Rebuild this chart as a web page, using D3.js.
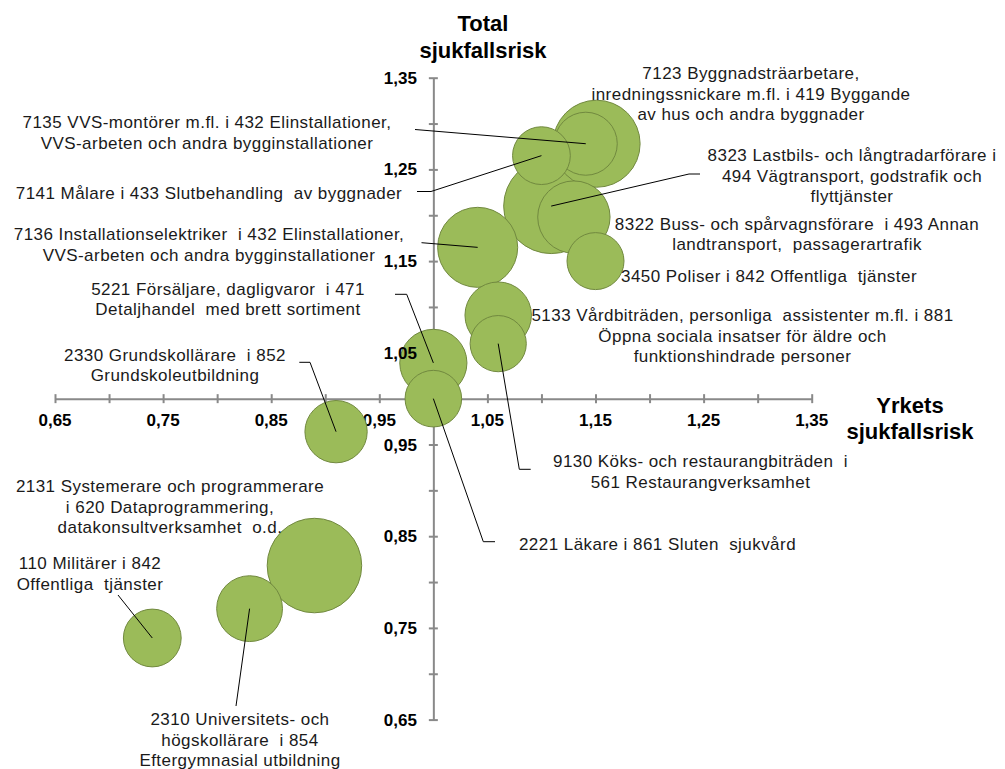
<!DOCTYPE html>
<html>
<head>
<meta charset="utf-8">
<script src="https://cdn.jsdelivr.net/npm/d3@7"></script>
<style>
html,body{margin:0;padding:0;background:#fff;}
svg{display:block;}
</style>
</head>
<body>
<svg id="chart" width="1005" height="769"></svg>
<script>
// ---- Data ----
const occupations = [
  "7123 Byggnadsträarbetare, inredningssnickare m.fl. i 419 Byggande av hus och andra byggnader",
  "7135 VVS-montörer m.fl. i 432 Elinstallationer, VVS-arbeten och andra bygginstallationer",
  "7141 Målare i 433 Slutbehandling av byggnader",
  "8323 Lastbils- och långtradarförare i 494 Vägtransport, godstrafik och flyttjänster",
  "8322 Buss- och spårvagnsförare i 493 Annan landtransport, passagerartrafik",
  "3450 Poliser i 842 Offentliga tjänster",
  "7136 Installationselektriker i 432 Elinstallationer, VVS-arbeten och andra bygginstallationer",
  "5133 Vårdbiträden, personliga assistenter m.fl. i 881 Öppna sociala insatser för äldre och funktionshindrade personer",
  "9130 Köks- och restaurangbiträden i 561 Restaurangverksamhet",
  "5221 Försäljare, dagligvaror i 471 Detaljhandel med brett sortiment",
  "2221 Läkare i 861 Sluten sjukvård",
  "2330 Grundskollärare i 852 Grundskoleutbildning",
  "2131 Systemerare och programmerare i 620 Dataprogrammering, datakonsultverksamhet o.d.",
  "2310 Universitets- och högskollärare i 854 Eftergymnasial utbildning",
  "110 Militärer i 842 Offentliga tjänster"
];
const yrketsRisk = [1.151, 1.141, 1.100, 1.109, 1.130, 1.150, 1.041, 1.060, 1.060, 1.000, 1.000, 0.910, 0.890, 0.830, 0.740];
const totalRisk  = [1.278, 1.278, 1.265, 1.210, 1.198, 1.150, 1.165, 1.091, 1.060, 1.039, 1.000, 0.964, 0.818, 0.771, 0.739];
const bubbleSize = [84, 44, 37, 100, 58, 36, 71, 49, 35, 50, 35.5, 43, 99, 48, 37];

const xTickValues = [0.65, 0.75, 0.85, 0.95, 1.05, 1.15, 1.25, 1.35];
const yTickValues = [0.65, 0.75, 0.85, 0.95, 1.05, 1.15, 1.25, 1.35];
const minorTickValues = [0.65,0.70,0.75,0.80,0.85,0.90,0.95,1.00,1.05,1.10,1.15,1.20,1.25,1.30,1.35];
const xTitle = ["Yrkets", "sjukfallsrisk"];
const yTitle = ["Total", "sjukfallsrisk"];

// ---- Label layout (annotation placement, pixels) ----
const labelLayout = [
  {lines:["7123 Byggnadsträarbetare,","inredningssnickare m.fl. i 419 Byggande","av hus och andra byggnader"], x:751, y:79, leader:null},
  {lines:["7135 VVS-montörer m.fl. i 432 Elinstallationer,","VVS-arbeten och andra bygginstallationer"], x:207, y:128, leader:[[415,129.5]]},
  {lines:["7141 Målare i 433 Slutbehandling  av byggnader"], x:209, y:199, leader:[[417,191.5],[431,191.5]]},
  {lines:["8323 Lastbils- och långtradarförare i","494 Vägtransport, godstrafik och","flyttjänster"], x:852, y:161, leader:[[700,174],[689,174]]},
  {lines:["8322 Buss- och spårvagnsförare  i 493 Annan","landtransport,  passagerartrafik"], x:797, y:229.5, leader:null},
  {lines:["3450 Poliser i 842 Offentliga  tjänster"], x:769, y:282, leader:null},
  {lines:["7136 Installationselektriker  i 432 Elinstallationer,","VVS-arbeten och andra bygginstallationer"], x:209, y:240, leader:[[421.5,242.7]]},
  {lines:["5133 Vårdbiträden, personliga  assistenter m.fl. i 881","Öppna sociala insatser för äldre och","funktionshindrade personer"], x:742.5, y:321, leader:null},
  {lines:["9130 Köks- och restaurangbiträden  i","561 Restaurangverksamhet"], x:700.5, y:467, leader:[[530.7,469.3],[519.3,469.3]]},
  {lines:["5221 Försäljare, dagligvaror  i 471","Detaljhandel  med brett sortiment"], x:228, y:294.5, leader:[[395,294.3],[406.7,294.3]]},
  {lines:["2221 Läkare i 861 Sluten  sjukvård"], x:657.5, y:549.5, leader:[[495,541.7],[483.3,541.7]]},
  {lines:["2330 Grundskollärare  i 852","Grundskoleutbildning"], x:175, y:360.5, leader:[[299.3,362.3],[310,362.3]]},
  {lines:["2131 Systemerare och programmerare","i 620 Dataprogrammering,","datakonsultverksamhet  o.d."], x:170, y:492, leader:null},
  {lines:["2310 Universitets- och","högskollärare  i 854","Eftergymnasial utbildning"], x:240, y:725, leader:[[236,706]]},
  {lines:["110 Militärer i 842","Offentliga  tjänster"], x:90, y:569, leader:[[118,595]]}
];

// ---- Scales ----
const svg = d3.select("#chart");
const x = d3.scaleLinear().domain([0.65, 1.35]).range([55, 811.7]);
const y = d3.scaleLinear().domain([0.65, 1.35]).range([719.6, 77.7]);
const r = d3.scaleSqrt().domain([0, d3.max(bubbleSize)]).range([0, 47.5]);

const axisColor = "#898989";
const fontFam = "'Liberation Sans', Arial, sans-serif";
const fmt = v => d3.format(".2f")(v).replace(".", ",");

// ---- Axes crossing at (1,1) ----
const xAxisG = svg.append("g").attr("transform", `translate(0,${y(1.0)})`);
xAxisG.call(d3.axisBottom(x).tickValues(minorTickValues).tickSize(0).tickFormat(""));
xAxisG.select(".domain").attr("stroke", axisColor).attr("stroke-width", 2);
xAxisG.selectAll(".tick").append("line").attr("y1", -4.5).attr("y2", 4.5)
  .attr("stroke", axisColor).attr("stroke-width", 2);

const yAxisG = svg.append("g").attr("transform", `translate(${x(1.0)},0)`);
yAxisG.call(d3.axisLeft(y).tickValues(minorTickValues).tickSize(0).tickFormat(""));
yAxisG.select(".domain").attr("stroke", axisColor).attr("stroke-width", 2);
yAxisG.selectAll(".tick").append("line").attr("x1", -4.5).attr("x2", 4.5)
  .attr("stroke", axisColor).attr("stroke-width", 2);

// x tick labels (beneath bubbles)
svg.append("g").selectAll("text").data(xTickValues).join("text")
  .attr("x", d => x(d)).attr("y", y(1.0) + 27.5)
  .attr("text-anchor", "middle")
  .attr("font-family", fontFam).attr("font-weight", "bold").attr("font-size", 17)
  .attr("fill", "#000").text(fmt);

// axis titles
svg.append("text").attr("font-family", fontFam).attr("font-weight", "bold").attr("font-size", 22)
  .attr("text-anchor", "middle").attr("fill", "#000")
  .selectAll("tspan").data(yTitle).join("tspan")
  .attr("x", 483).attr("y", (d, i) => 31 + i * 27).text(d => d);

svg.append("text").attr("font-family", fontFam).attr("font-weight", "bold").attr("font-size", 22)
  .attr("text-anchor", "middle").attr("fill", "#000")
  .selectAll("tspan").data(xTitle).join("tspan")
  .attr("x", 910).attr("y", (d, i) => 413 + i * 25.5).text(d => d);

// ---- Bubbles (largest first) ----
const points = occupations.map((name, i) => ({
  name, xv: yrketsRisk[i], yv: totalRisk[i], size: bubbleSize[i], layout: labelLayout[i]
}));
const order = points.slice().sort((a, b) => b.size - a.size);

svg.append("g").selectAll("circle").data(order).join("circle")
  .attr("cx", d => x(d.xv)).attr("cy", d => y(d.yv)).attr("r", d => r(d.size))
  .attr("fill", "#9bbb59").attr("stroke", "#71893f").attr("stroke-width", 1);

// y tick labels (drawn over bubbles)
svg.append("g").selectAll("text").data(yTickValues).join("text")
  .attr("x", x(1.0) - 16.5).attr("y", d => y(d) + 6)
  .attr("text-anchor", "end")
  .attr("font-family", fontFam).attr("font-weight", "bold").attr("font-size", 17)
  .attr("fill", "#000").text(fmt);

// ---- Leader lines ----
const line = d3.line();
svg.append("g").selectAll("path").data(points.filter(d => d.layout.leader)).join("path")
  .attr("d", d => line(d.layout.leader.concat([[x(d.xv), y(d.yv)]])))
  .attr("fill", "none").attr("stroke", "#000").attr("stroke-width", 1);

// ---- Labels ----
const lblG = svg.append("g");
points.forEach(d => {
  const t = lblG.append("text")
    .attr("font-family", fontFam).attr("font-size", 17)
    .attr("letter-spacing", 0.45)
    .attr("text-anchor", "middle").attr("fill", "#1a1a1a")
    .attr("xml:space", "preserve").style("white-space", "pre");
  t.selectAll("tspan").data(d.layout.lines).join("tspan")
    .attr("x", d.layout.x).attr("y", (s, i) => d.layout.y + i * 20.7).text(s => s);
});
</script>
</body>
</html>
